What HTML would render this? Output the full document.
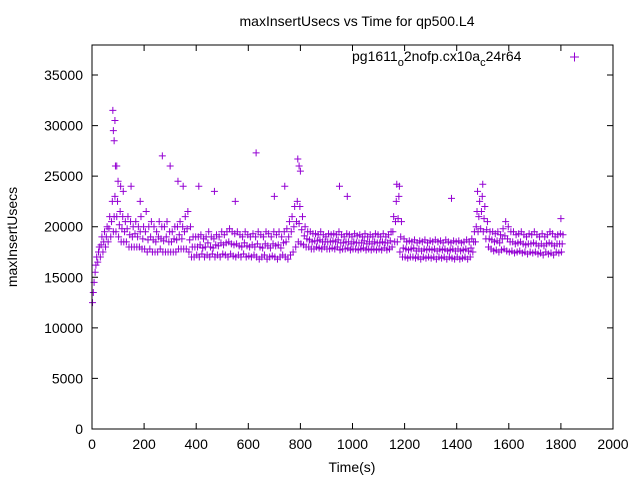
<!DOCTYPE html>
<html><head><meta charset="utf-8"><style>
body{margin:0;background:#fff;}
svg{display:block;font-family:"Liberation Sans",sans-serif;}
</style></head><body>
<svg id="chart" width="640" height="480">
<text x="357" y="26" text-anchor="middle" font-size="14">maxInsertUsecs vs Time for qp500.L4</text>
<text x="352" y="472" text-anchor="middle" font-size="14">Time(s)</text>
<text transform="translate(17,237) rotate(-90)" text-anchor="middle" font-size="14">maxInsertUsecs</text>
<g id="axes"></g>
<g id="marks"></g>
<g>
<text x="352" y="61" font-size="14">pg1611<tspan dy="5" font-size="11">o</tspan><tspan dy="-5">2nofp.cx10a</tspan><tspan dy="5" font-size="11">c</tspan><tspan dy="-5">24r64</tspan></text>
<path d="M570,57h9M574.5,52.5v9" stroke="#9400d3" stroke-width="1"/>
</g>
<rect x="92" y="45" width="521" height="384" fill="none" stroke="#000" stroke-width="1"/>
</svg>
<script>
const xTicks=[0,200,400,600,800,1000,1200,1400,1600,1800,2000];
const yTicks=[0,5000,10000,15000,20000,25000,30000,35000];
const lowVals=[12500,15500,16500,17000,17500,18000,18500,19000,19500,19500,
19000,18500,18500,18500,18000,18000,18000,18000,18000,17800,
17800,17500,17800,17500,17500,17500,17800,17500,17500,17500,
17500,17500,17500,17800,17800,17800,17800,17500,17000,17000,
17200,17000,17300,17000,17200,17000,17300,17000,17200,17000,
17300,17200,17000,17300,17100,17000,17200,17000,17300,17000,
17100,17000,17200,17000,16800,17000,17200,16800,17000,17100,
17000,16800,17000,17200,17000,16800,17200,17500,18000,18500,
18300,18200,18000,18000,17800,17800,18000,17900,17800,18000,
17800,17800,17900,17800,18000,17700,17800,17800,17900,17700,
17800,17800,17700,17800,17900,17700,17800,17700,17800,17700,
17800,17700,17900,17700,17800,18000,18500,18500,17500,17000,
17000,16900,17000,17000,16900,17000,16800,17000,16900,17000,
16900,17000,16800,17000,16900,17000,16800,17000,16900,16800,
17000,16800,16900,17000,16800,17000,17500,18500,19500,19800,
19500,18800,18000,17800,17600,17700,17500,17700,17800,17600,
17500,17600,17400,17500,17600,17400,17500,17300,17500,17400,
17500,17300,17400,17200,17500,17300,17400,17200,17500,17400,17500];
const midVals=[13500,16200,17500,18200,18500,19000,19800,20500,21000,21000,
20200,19800,19500,19800,19200,19000,19300,19000,19500,18800,
19500,18700,19000,18700,18500,19000,18800,18600,19000,18500,
18500,18800,18700,19200,18800,19500,19800,18700,18000,18000,
18000,18200,17900,18000,18400,18000,17900,18200,18100,18400,
18200,18400,18500,18300,18200,18300,18100,18000,18400,18100,
18000,18200,18000,18300,18000,17900,18300,18100,17900,18300,
18100,18200,17900,18400,18500,19000,19500,20000,20500,20300,
19700,19100,18800,18700,18500,18600,18600,18700,18500,18500,
18500,18500,18600,18500,18700,18400,18400,18500,18500,18300,
18500,18400,18400,18400,18600,18300,18500,18300,18500,18400,
18400,18500,18400,18400,18600,19500,20500,20800,19000,17900,
17800,17700,17800,17900,17600,17800,17600,17800,17700,17800,
17700,17800,17600,17800,17700,17800,17600,17700,17800,17600,
17800,17600,17700,17800,17600,17900,18500,20000,21000,21500,
20800,19700,18800,18700,18500,18600,18400,18800,19100,18800,
18500,18500,18300,18400,18500,18300,18200,18300,18300,18400,
18300,18100,18300,18100,18300,18400,18300,18100,18300,18300,18300];
const highVals=[14500,17000,18000,19000,19500,20000,21000,22500,23000,22500,
21500,21000,20500,21000,20500,20000,20500,20000,21000,20000,
21500,20000,20500,20000,19500,20500,20000,20000,20500,19500,
19500,20000,20000,20500,20000,21000,21500,20000,19000,19000,
19000,19200,18800,19000,19500,19000,18800,19200,19000,19500,
19200,19500,19800,19500,19300,19500,19200,19000,19500,19200,
19000,19300,19000,19500,19200,19000,19500,19300,19000,19500,
19200,19500,19000,19500,19800,20500,21000,22000,22500,22000,
21000,20000,19500,19500,19300,19300,19200,19500,19200,19000,
19300,19200,19300,19200,19500,19200,19000,19300,19200,19000,
19300,19100,19200,19000,19300,19000,19200,19000,19300,19200,
19000,19300,19000,19200,19500,21000,22500,23000,20500,18800,
18500,18600,18500,18700,18400,18600,18500,18700,18400,18600,
18500,18700,18500,18600,18400,18700,18500,18400,18600,18500,
18600,18400,18500,18700,18500,18800,19500,21500,22500,23000,
22000,20500,19500,19500,19300,19500,19200,19800,20500,20000,
19500,19500,19200,19300,19500,19200,19000,19300,19200,19500,
19200,19000,19300,19000,19200,19500,19300,19000,19200,19300,19200];
const outT=[80,82,85,88,90,95,100,110,120,150,185,270,300,330,350,410,470,550,630,700,740,790,795,800,950,980,1170,1180,1380,1480,1500,1800];
const outV=[31500,29500,28500,30500,26000,26000,24500,24000,23500,24000,22500,27000,26000,24500,24000,24000,23500,22500,27300,23000,24000,26700,26000,25500,24000,23000,24200,24000,22800,23500,24200,20800];
const X0=92,X1=613,Y0=429,Y1=45,XMAX=2000,YMAX=37966;
const sx=v=>X0+v/XMAX*(X1-X0);
const sy=v=>Y0-v/YMAX*(Y0-Y1);
const NS="http://www.w3.org/2000/svg";
const axes=document.getElementById('axes'),marks=document.getElementById('marks');
xTicks.forEach(t=>{
 const x=sx(t);
 const l=document.createElementNS(NS,'path');
 l.setAttribute('d',`M${x},${Y0}v-6M${x},${Y1}v6`);l.setAttribute('stroke','#000');
 
 
 axes.appendChild(l);
 const tx=document.createElementNS(NS,'text');
 tx.setAttribute('x',x);tx.setAttribute('y',Y0+20);tx.setAttribute('text-anchor','middle');tx.setAttribute('font-size','14');
 tx.textContent=t;
 
 
 axes.appendChild(tx);
});
yTicks.forEach(t=>{
 const y=sy(t);
 const l=document.createElementNS(NS,'path');
 l.setAttribute('d',`M${X0},${y}h6M${X1},${y}h-6`);l.setAttribute('stroke','#000');
 
 
 axes.appendChild(l);
 const tx=document.createElementNS(NS,'text');
 tx.setAttribute('x',X0-9);tx.setAttribute('y',y+5);tx.setAttribute('text-anchor','end');tx.setAttribute('font-size','14');
 tx.textContent=t;
 
 
 axes.appendChild(tx);
});
function cross(t,v){
 const x=sx(t),y=sy(v);
 const p=document.createElementNS(NS,'path');
 p.setAttribute('d',`M${x-3.5},${y}h7M${x},${y-3.5}v7`);
 p.setAttribute('stroke','#9400d3');p.setAttribute('stroke-width','1');
 
 
 marks.appendChild(p);
}
lowVals.forEach((v,i)=>cross(i*10+2,v));
midVals.forEach((v,i)=>cross(i*10+5,v));
highVals.forEach((v,i)=>cross(i*10+8,v));
outT.forEach((t,i)=>cross(t,outV[i]));
</script>
</body></html>
